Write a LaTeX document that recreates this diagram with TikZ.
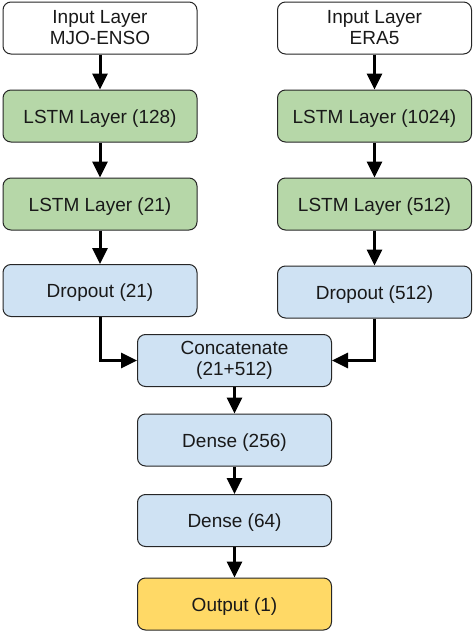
\documentclass[tikz,border=0pt]{standalone}
\usepackage{fontspec}
\setmainfont{Liberation Sans}
\usetikzlibrary{arrows.meta}
\definecolor{cgreen}{HTML}{B6D7A8}
\definecolor{cblue}{HTML}{CFE2F3}
\definecolor{cyellow}{HTML}{FFD966}
\begin{document}
\begin{tikzpicture}[x=1pt,y=-1pt,
  layer/.style={draw=black!85, line width=1pt, rounded corners=8pt, minimum width=194pt, minimum height=52pt, inner sep=0pt, align=center, font=\fontsize{19}{21}\selectfont, text=black!90},
  one/.style={text height=14pt, text depth=0pt},
  conn/.style={line width=3pt, -{Triangle[length=16pt,width=15pt]}}]
\useasboundingbox (0,0) rectangle (474,632);
\node[layer, fill=white] (inA) at (100,28) {Input Layer\\MJO-ENSO};
\node[layer, one, fill=cgreen] (lA1) at (100,116) {LSTM Layer (128)};
\node[layer, one, fill=cgreen] (lA2) at (100,204) {LSTM Layer (21)};
\node[layer, one, fill=cblue] (dA) at (100,290.5) {Dropout (21)};
\node[layer, fill=white] (inB) at (374.5,28) {Input Layer\\ERA5};
\node[layer, one, fill=cgreen] (lB1) at (374.5,116) {LSTM Layer (1024)};
\node[layer, one, fill=cgreen] (lB2) at (374.5,204) {LSTM Layer (512)};
\node[layer, one, fill=cblue] (dB) at (374.5,292) {Dropout (512)};
\node[layer, fill=cblue] (cat) at (234.5,360.5) {Concatenate\\(21+512)};
\node[layer, one, fill=cblue] (d1) at (234.5,440) {Dense (256)};
\node[layer, one, fill=cblue] (d2) at (234.5,520.5) {Dense (64)};
\node[layer, one, fill=cyellow] (out) at (234.5,604) {Output (1)};
\draw[conn] (inA) -- (lA1);
\draw[conn] (lA1) -- (lA2);
\draw[conn] (lA2) -- (dA);
\draw[conn] (inB) -- (lB1);
\draw[conn] (lB1) -- (lB2);
\draw[conn] (lB2) -- (dB);
\draw[conn] (dA.south) |- (cat.west);
\draw[conn] (dB.south) |- (cat.east);
\draw[conn] (cat) -- (d1);
\draw[conn] (d1) -- (d2);
\draw[conn] (d2) -- (out);
\end{tikzpicture}
\end{document}
